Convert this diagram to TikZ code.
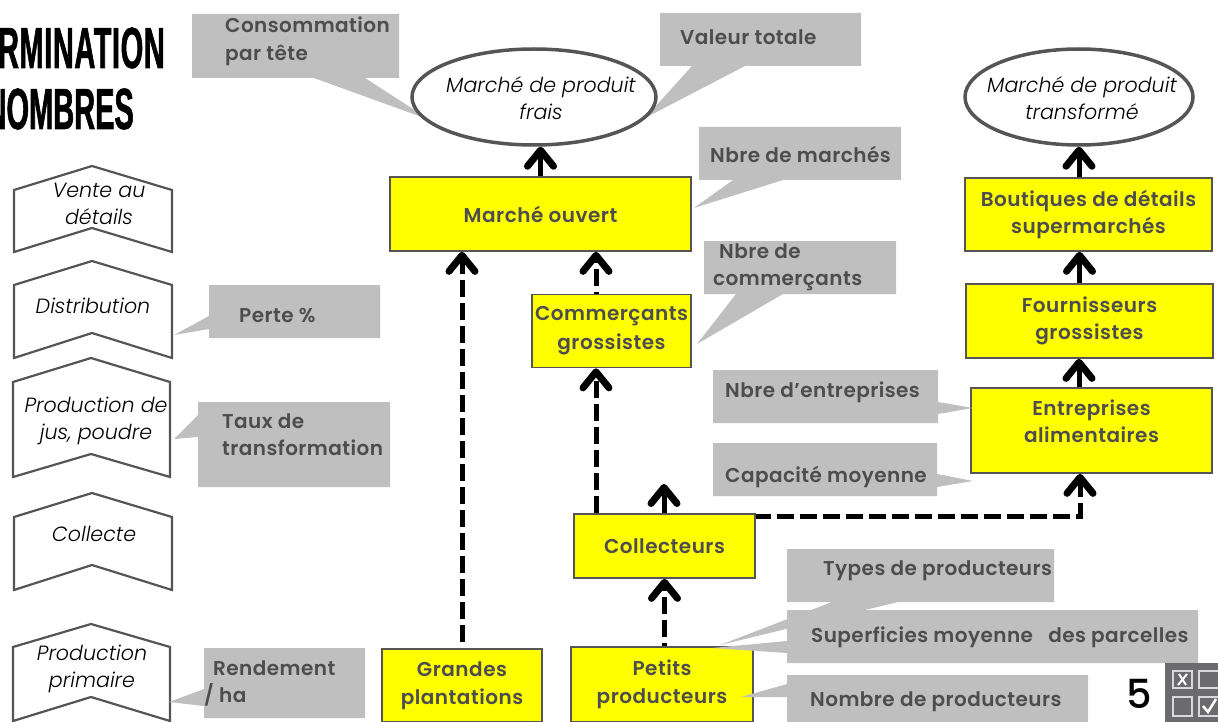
\documentclass[tikz,border=0pt]{standalone}
\usepackage{fontspec}
\setmainfont{Poppins}[BoldFont=* SemiBold]
\newfontfamily\titlefont[FakeStretch=0.5,FakeBold=1]{Liberation Sans Bold}
\newfontfamily\stagefont{Poppins}[UprightFont=* Light Italic]
\newfontfamily\numfont{Poppins}[UprightFont=* Medium]
\usetikzlibrary{arrows.meta,shapes.geometric}
\definecolor{calloutgrey}{HTML}{BFBFBF}
\definecolor{inkgrey}{HTML}{4D4D4D}
\definecolor{edgegrey}{HTML}{555555}
\definecolor{boxyellow}{HTML}{FFFF00}
\definecolor{icongrey}{HTML}{6B6B6D}
\tikzset{
  yellowbox/.style={draw=edgegrey, line width=1.7pt, fill=boxyellow, align=center, inner sep=0pt,
    text=inkgrey, font=\addfontfeature{LetterSpace=2.5}\fontsize{20}{27.5}\selectfont\bfseries},
  market/.style={ellipse, draw=edgegrey, line width=3.5pt, fill=white, align=center, inner sep=0pt},
  callout/.style={fill=calloutgrey},
  calltext/.style={anchor=west, align=left, inner sep=0pt, text=inkgrey, yshift=-1.5pt,
    font=\addfontfeature{LetterSpace=2.2}\fontsize{20}{27.5}\selectfont\bfseries},
  stageshape/.style={draw=edgegrey, line width=2.2pt, fill=white},
  stagetext/.style={align=center, inner sep=0pt, font=\stagefont\fontsize{20.6}{27.5}\selectfont},
  flow/.style={line width=5pt, -{Straight Barb[length=16pt,width=26pt,line width=7pt,round]}},
  dashedflow/.style={flow, dash pattern=on 17pt off 6pt, dash phase=17pt},
  titletext/.style={anchor=east, inner sep=0pt, font=\titlefont\fontsize{58}{62}\selectfont}
}
\begin{document}
\begin{tikzpicture}[x=1pt,y=-1pt]
\useasboundingbox (0,0) rectangle (1218,722);

% title, cut by the page
\node[titletext] (title1) at (165,48) {\addfontfeature{LetterSpace=1}RMINATION};
\node[titletext] (title2) at (134,109) {NOMBRES};

% stages on the left
\draw[stageshape] (14,190) -- (92,166) -- (172,190) -- (172,252) -- (92,228) -- (14,252) -- cycle;
\draw[stageshape] (14,285) -- (92,261) -- (172,285) -- (172,358) -- (92,333) -- (14,358) -- cycle;
\draw[stageshape] (13,382) -- (91,358) -- (170,382) -- (170,477) -- (91,454) -- (13,477) -- cycle;
\draw[stageshape] (14,517) -- (92,493) -- (172,517) -- (172,590) -- (92,565) -- (14,590) -- cycle;
\draw[stageshape] (13,647) -- (91,624) -- (170,647) -- (170,721) -- (91,697) -- (13,721) -- cycle;
\node[stagetext] (vente) at (99,204) {Vente au\\détails};
\node[stagetext] (distribution) at (93,306) {Distribution};
\node[stagetext] (jus) at (96,421) {Production de\\jus, poudre};
\node[stagetext] (collecte) at (94,534) {Collecte};
\node[stagetext] (primaire) at (92,669) {Production\\primaire};

% callouts that pass under the ellipses
\fill[callout] (192,14) -- (399,14) -- (399,78) -- (365,78) -- (430,120) -- (314,78) -- (192,78) -- cycle;
\fill[callout] (660,13) -- (861,13) -- (861,66) -- (745,66) -- (645,118) -- (692,66) -- (660,66) -- cycle;

% markets
\node[market, minimum width=244, minimum height=96] (frais) at (534,97) {};
\node[market, minimum width=228, minimum height=96] (transforme) at (1079,97) {};
\node[stagetext] (fraistext) at (541,98) {Marché de produit\\frais};
\node[stagetext] (transformetext) at (1082,98) {Marché de produit\\transformé};

% chain boxes
\node[yellowbox, minimum width=301, minimum height=74] (ouvert) at (540.5,214) {Marché ouvert};
\node[yellowbox, minimum width=159, minimum height=73] (commercants) at (611.5,331) {Commerçants\\[1.5pt]grossistes};
\node[yellowbox, minimum width=181, minimum height=64] (collecteurs) at (664.5,546) {Collecteurs};
\node[yellowbox, minimum width=160, minimum height=73] (grandes) at (462,685.5) {Grandes\\plantations};
\node[yellowbox, minimum width=182, minimum height=75] (petits) at (662,684.5) {Petits\\producteurs};
\node[yellowbox, minimum width=247, minimum height=73] (boutiques) at (1088.5,214.5) {Boutiques de détails\\supermarchés};
\node[yellowbox, minimum width=247, minimum height=74] (fournisseurs) at (1089.5,321) {Fournisseurs\\grossistes};
\node[yellowbox, minimum width=241, minimum height=85] (entreprises) at (1091.5,430.5) {Entreprises\\alimentaires\\[-9pt]\mbox{}};
\coordinate (collecteout) at (664,484);

% arrows
\draw[flow] (ouvert.north) -- (ouvert.north |- frais.south);
\draw[flow] ([xshift=-10pt]fournisseurs.north) -- ([xshift=-10pt]fournisseurs.north |- boutiques.south);
\draw[flow] ([xshift=-9.5pt]boutiques.north) -- (transforme.south);
\draw[flow] ([xshift=-12.5pt]entreprises.north) -- ([xshift=-12.5pt]entreprises.north |- fournisseurs.south);
\draw[flow] (collecteurs.north -| collecteout) -- (collecteout);
\draw[dashedflow] (grandes.north) -- (grandes.north |- ouvert.south);
\draw[dashedflow, dash phase=15pt] ([xshift=-15.5pt]commercants.north) -- ([xshift=-15.5pt]commercants.north |- ouvert.south);
\draw[dashedflow, dash phase=0pt] ([xshift=-68.5pt]collecteurs.north) -- ([xshift=-15.5pt]commercants.south);
\draw[dashedflow, dash phase=14pt] (petits.north -| collecteurs.south) -- (collecteurs.south);
\draw[dashedflow, dash phase=2pt] ([yshift=-3pt]collecteurs.north east) -| ([xshift=-11.5pt]entreprises.south);

% other callouts
\fill[callout] (699,127) -- (901,127) -- (901,180) -- (783,180) -- (694,208) -- (733,180) -- (699,180) -- cycle;
\fill[callout] (704,241) -- (896,241) -- (896,294) -- (783,294) -- (697,344) -- (736,294) -- (704,294) -- cycle;
\fill[callout] (209,285) -- (380,285) -- (380,338) -- (209,338) -- (209,329) -- (174,335) -- (209,316) -- cycle;
\fill[callout] (198,402) -- (390,402) -- (390,487) -- (198,487) -- (198,437) -- (174,439) -- (198,415) -- cycle;
\fill[callout] (204,648) -- (365,648) -- (365,718) -- (204,718) -- (204,706) -- (169,702) -- (204,689) -- cycle;
\fill[callout] (713,370) -- (938,370) -- (938,402) -- (973,408) -- (938,414) -- (938,423) -- (713,423) -- cycle;
\fill[callout] (713,443) -- (937,443) -- (937,474) -- (973,481) -- (937,487) -- (937,496) -- (713,496) -- cycle;
\fill[callout] (787,549) -- (1054,549) -- (1054,602) -- (898,602) -- (720,645) -- (832,602) -- (787,602) -- cycle;
\fill[callout] (787,610) -- (1198,610) -- (1198,663) -- (787,663) -- (787,653) -- (712,648) -- (787,641) -- cycle;
\fill[callout] (787,675) -- (1088,675) -- (1088,722) -- (787,722) -- (787,697) -- (741,697) -- (787,684) -- cycle;

% callout texts
\node[calltext] (consommation) at (225,40) {Consommation\\par tête};
\node[calltext] (valeur) at (680,36) {Valeur totale};
\node[calltext] (nbremarches) at (710,153) {Nbre de marchés};
\node[calltext] (nbrecommercants) at (713,266) {\hspace*{6pt}Nbre de\\commerçants};
\node[calltext] (perte) at (239,314) {Perte \%};
\node[calltext] (taux) at (222,433) {Taux de\\transformation};
\node[calltext] (rendement) at (204,682) {\hspace*{9pt}Rendement\\/ ha};
\node[calltext] (nbreentreprises) at (725,391) {Nbre d’entreprises};
\node[calltext] (capacite) at (725,475) {Capacité moyenne};
\node[calltext] (types) at (823,569) {Types de producteurs};
\node[calltext] (superficies) at (811,636) {Superficies moyenne\hspace{0.5em} des parcelles};
\node[calltext] (nombre) at (810,700) {Nombre de producteurs};

% page number and its icon
\node[inner sep=0pt, font=\numfont\fontsize{40}{44}\selectfont] (pagenum) at (1139,694) {5};
\fill[icongrey] (1165,663) rectangle (1218,722);
\draw[white!85!black, line width=2pt] (1173,671) rectangle (1192,688);
\draw[white!85!black, line width=2pt] (1199,671) rectangle (1219,688);
\draw[white!85!black, line width=2pt] (1173,697) rectangle (1192,716);
\draw[white!85!black, line width=2pt] (1199,697) rectangle (1219,716);
\draw[white, line width=2pt] (1178,685) -- (1187,674) (1179,674) -- (1186,685);
\draw[white, line width=2.5pt] (1203,706) -- (1208,712) -- (1216,699);
\end{tikzpicture}
\end{document}
